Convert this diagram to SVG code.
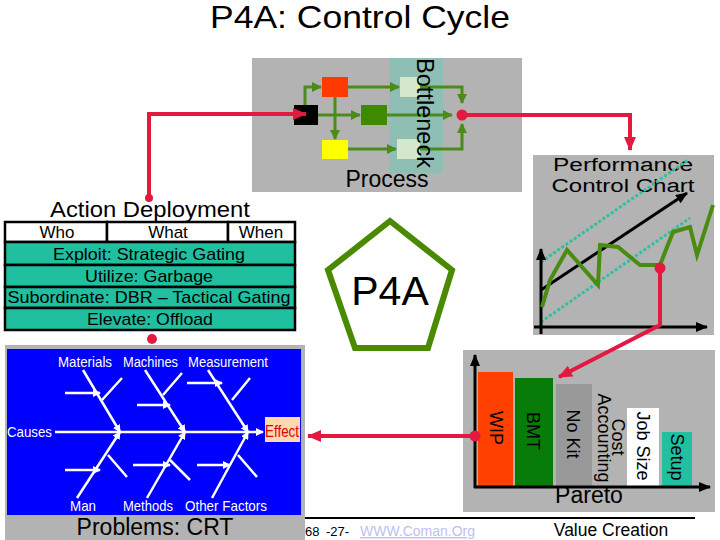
<svg xmlns="http://www.w3.org/2000/svg" width="720" height="540" viewBox="0 0 720 540">
<defs>
<style>
text{font-family:"Liberation Sans",Arial,sans-serif;fill:#000}
.panel{fill:#b3b3b3}
.g{stroke:#4b8b1b;stroke-width:3;fill:none;marker-end:url(#ga)}
.r{stroke:#e3193f;stroke-width:4;fill:none}
.cell{stroke:#000;stroke-width:2.5}
.tt{font-size:17px;text-anchor:middle}
.fb{stroke:#fff;stroke-width:2.5;fill:none}
.fa{stroke:#fff;stroke-width:2.5;fill:none;marker-end:url(#wa)}
.fl{fill:#fff;font-size:15px}
.pl{font-size:18px;text-anchor:middle}
</style>
<marker id="ga" markerUnits="userSpaceOnUse" markerWidth="10" markerHeight="10" refX="9" refY="5" orient="auto"><path d="M0,0 L10,5 L0,10 z" fill="#4b8b1b"/></marker>
<marker id="ra" markerUnits="userSpaceOnUse" markerWidth="14" markerHeight="12" refX="13" refY="6" orient="auto"><path d="M0,0 L14,6 L0,12 z" fill="#e3193f"/></marker>
<marker id="ka" markerUnits="userSpaceOnUse" markerWidth="12" markerHeight="10" refX="11" refY="5" orient="auto"><path d="M0,0 L12,5 L0,10 z" fill="#000"/></marker>
<marker id="wa" markerUnits="userSpaceOnUse" markerWidth="8" markerHeight="8" refX="7" refY="4" orient="auto"><path d="M0,0 L8,4 L0,8 z" fill="#fff"/></marker>
</defs>
<rect width="720" height="540" fill="#fff"/>
<text x="360" y="28" font-size="32" text-anchor="middle" textLength="300" lengthAdjust="spacingAndGlyphs">P4A: Control Cycle</text>

<g id="process">
<rect class="panel" x="252" y="58" width="270" height="134"/>
<rect x="389" y="58" width="54" height="115" fill="#8fbfb4"/>
<rect x="294" y="105" width="24" height="20" fill="#000"/>
<rect x="322" y="77" width="26" height="20" fill="#ff3a00"/>
<rect x="361" y="105" width="26" height="20" fill="#3f8a00"/>
<rect x="322" y="140" width="26" height="19" fill="#ffff00"/>
<rect x="400" y="77" width="20" height="20" fill="#d5e8cc"/>
<rect x="397" y="139" width="23" height="20" fill="#d5e8cc"/>
<path class="g" d="M305,105 V87 H321"/>
<path class="g" d="M348,87 H399"/>
<path class="g" d="M420,87 H462 V103"/>
<path class="g" d="M318,115 H360"/>
<path class="g" d="M387,115 H452"/>
<path class="g" d="M335,97 V139"/>
<path class="g" d="M348,149 H396"/>
<path class="g" d="M420,149 H462 V124"/>
<text transform="translate(417,58) rotate(90)" font-size="24" textLength="110" lengthAdjust="spacingAndGlyphs">Bottleneck</text>
<text x="387" y="187" font-size="23" text-anchor="middle">Process</text>
</g>

<g id="chart">
<rect class="panel" x="533" y="155" width="181" height="180"/>
<text x="623" y="171" font-size="18" text-anchor="middle" textLength="140" lengthAdjust="spacingAndGlyphs">Performance</text>
<text x="623" y="192" font-size="18" text-anchor="middle" textLength="143" lengthAdjust="spacingAndGlyphs">Control Chart</text>
<path d="M541,262 L688,160" stroke="#30c0a0" stroke-width="3" stroke-dasharray="3 2"/>
<path d="M541,322 L690,218" stroke="#30c0a0" stroke-width="3" stroke-dasharray="3 2"/>
<path d="M541,334 V249" stroke="#000" stroke-width="3" marker-end="url(#ka)"/>
<path d="M534,327 H707" stroke="#000" stroke-width="3" marker-end="url(#ka)"/>
<path d="M541,290 L687,193" stroke="#000" stroke-width="3" marker-end="url(#ka)"/>
<polyline points="542,307 550,280 567,250 598,285 600,245 618,247 640,265 660,265 673,232 690,227 697,255 713,205" fill="none" stroke="#4a8c10" stroke-width="4"/>
</g>

<g id="action">
<text x="150" y="217" font-size="22" text-anchor="middle" textLength="200" lengthAdjust="spacingAndGlyphs">Action Deployment</text>
<rect class="cell" x="5" y="222" width="102" height="20" fill="#fff"/>
<rect class="cell" x="107" y="222" width="121" height="20" fill="#fff"/>
<rect class="cell" x="228" y="222" width="67" height="20" fill="#fff"/>
<rect class="cell" x="5" y="242" width="290" height="23" fill="#1fbf9f"/>
<rect class="cell" x="5" y="265" width="290" height="22" fill="#1fbf9f"/>
<rect class="cell" x="5" y="287" width="290" height="21" fill="#1fbf9f"/>
<rect class="cell" x="5" y="308" width="290" height="22" fill="#1fbf9f"/>
<text class="tt" x="57" y="238">Who</text>
<text class="tt" x="168" y="238">What</text>
<text class="tt" x="261" y="238">When</text>
<text class="tt" x="149" y="260" textLength="192" lengthAdjust="spacingAndGlyphs">Exploit: Strategic Gating</text>
<text class="tt" x="149" y="282" textLength="128" lengthAdjust="spacingAndGlyphs">Utilize: Garbage</text>
<text class="tt" x="149" y="303" textLength="283" lengthAdjust="spacingAndGlyphs">Subordinate: DBR – Tactical Gating</text>
<text class="tt" x="150" y="325" textLength="126" lengthAdjust="spacingAndGlyphs">Elevate: Offload</text>
</g>

<g id="p4a">
<polygon points="390,221 452,270 428,348 355,348 328,270" fill="#fff" stroke="#4a8a00" stroke-width="6"/>
<text x="390" y="305" font-size="41" text-anchor="middle">P4A</text>
</g>

<g id="connector-stub">
<circle cx="152" cy="339" r="5" fill="#e3193f"/>
</g>

<g id="fishbone">
<rect class="panel" x="5" y="345" width="300" height="195"/>
<rect x="7" y="349" width="294" height="166" fill="#0000ff"/>
<text class="fl" x="58" y="367" textLength="54" lengthAdjust="spacingAndGlyphs">Materials</text>
<text class="fl" x="123" y="367" textLength="55" lengthAdjust="spacingAndGlyphs">Machines</text>
<text class="fl" x="188" y="367" textLength="80" lengthAdjust="spacingAndGlyphs">Measurement</text>
<text class="fl" x="7" y="437" textLength="45" lengthAdjust="spacingAndGlyphs" font-size="16">Causes</text>
<text class="fl" x="70" y="511" textLength="26" lengthAdjust="spacingAndGlyphs">Man</text>
<text class="fl" x="123" y="511" textLength="50" lengthAdjust="spacingAndGlyphs">Methods</text>
<text class="fl" x="185" y="511" textLength="82" lengthAdjust="spacingAndGlyphs">Other Factors</text>
<path class="fa" d="M55,432 H263"/>
<path class="fa" d="M83,370 L120,432"/>
<path class="fa" d="M145,370 L185,432"/>
<path class="fa" d="M208,370 L248,432"/>
<path class="fa" d="M77,498 L120,432"/>
<path class="fa" d="M147,498 L185,432"/>
<path class="fa" d="M212,498 L248,432"/>
<path class="fa" d="M65,393 H100"/>
<path class="fb" d="M122,378 L102,400"/>
<path class="fa" d="M137,405 H170"/>
<path class="fb" d="M182,373 L163,395"/>
<path class="fa" d="M187,383 H222"/>
<path class="fb" d="M250,378 L232,400"/>
<path class="fa" d="M65,470 H100"/>
<path class="fb" d="M108,455 L127,477"/>
<path class="fa" d="M133,465 H170"/>
<path class="fb" d="M170,460 L190,480"/>
<path class="fa" d="M197,465 H230"/>
<path class="fb" d="M238,455 L257,477"/>
<rect x="265" y="417" width="35" height="25" fill="#ffd8b0"/>
<text x="282" y="437" font-size="16" style="fill:#e00000" text-anchor="middle" textLength="34" lengthAdjust="spacingAndGlyphs">Effect</text>
<text x="155" y="535" font-size="23" text-anchor="middle">Problems: CRT</text>
</g>

<g id="pareto">
<rect class="panel" x="463" y="350" width="252" height="162"/>
<rect x="478" y="372" width="35" height="115" fill="#ff4000"/>
<rect x="515" y="378" width="38" height="109" fill="#087c08"/>
<rect x="556" y="384" width="36" height="103" fill="#999"/>
<rect x="627" y="408" width="32" height="79" fill="#fff"/>
<rect x="662" y="432" width="30" height="55" fill="#20c0a0"/>
<path d="M475,488 V355" stroke="#000" stroke-width="3" marker-end="url(#ka)"/>
<path d="M474,487 H710" stroke="#000" stroke-width="3" marker-end="url(#ka)"/>
<text class="pl" transform="translate(490,428) rotate(90)">WIP</text>
<text class="pl" transform="translate(527,431) rotate(90)">BMT</text>
<text class="pl" transform="translate(567,434) rotate(90)">No Kit</text>
<text class="pl" transform="translate(612,437) rotate(90)">Cost</text>
<text class="pl" transform="translate(598,438) rotate(90)">Accounting</text>
<text class="pl" transform="translate(637,446) rotate(90)">Job Size</text>
<text class="pl" transform="translate(671,457) rotate(90)">Setup</text>
<text x="589" y="503" font-size="23" text-anchor="middle">Pareto</text>
</g>

<g id="connectors">
<circle cx="149" cy="198" r="4" fill="#e3193f"/>
<path class="r" d="M149,197 V114 H306" marker-end="url(#ra)"/>
<circle cx="462" cy="115" r="5.5" fill="#e3193f"/>
<path class="r" d="M462,115 H630 V150" marker-end="url(#ra)"/>
<circle cx="660" cy="268" r="5.5" fill="#e3193f"/>
<path class="r" d="M660,268 V325 L559,377" marker-end="url(#ra)"/>
<circle cx="475" cy="436" r="5.5" fill="#e3193f"/>
<path class="r" d="M475,436 H308" marker-end="url(#ra)"/>
</g>

<g id="footer">
<line x1="305" y1="518" x2="695" y2="518" stroke="#000" stroke-width="2"/>
<text x="305" y="536" font-size="13">68</text>
<text x="326" y="536" font-size="13">-27-</text>
<text x="360" y="536" font-size="14" style="fill:#c0c0ee" text-decoration="underline" textLength="115" lengthAdjust="spacingAndGlyphs">WWW.Coman.Org</text>
<text x="611" y="536" font-size="17.5" text-anchor="middle">Value Creation</text>
</g>
</svg>
